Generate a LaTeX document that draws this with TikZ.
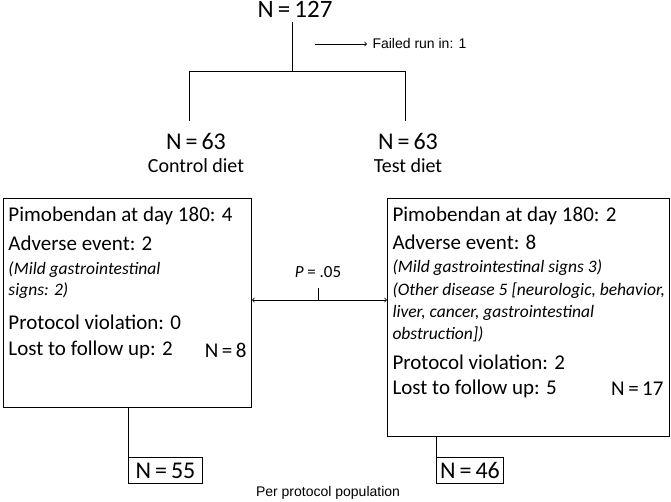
\documentclass[tikz,border=0pt]{standalone}
\usepackage{fontspec}
\setmainfont{Carlito}
\newfontfamily\arial{Liberation Sans}
\begin{document}
\begin{tikzpicture}[x=1pt,y=-1pt,line width=1pt,
 big/.style={font=\fontsize{24}{26}\selectfont,inner sep=0},
 txt/.style={font=\fontsize{21}{23}\selectfont,inner sep=0,anchor=west},
 itx/.style={font=\fontsize{17.5}{19}\selectfont\itshape,inner sep=0,anchor=west},
 sm/.style={font=\arial\fontsize{14}{16}\selectfont,inner sep=0}]
\useasboundingbox (0,0) rectangle (671,502);
\node[big,font=\fontsize{25}{27}\selectfont] (top) at (295,9) {N\,=\,127};
\coordinate (j) at (292,72);
\coordinate (t0) at (292,22);
\draw (t0) -- (j);
\coordinate (a0) at (315,44); \coordinate (a1) at (367,44);
\draw[->,line width=0.8pt] (a0) -- (a1);
\node[sm,anchor=west] (fr) at (372,44) {Failed run in: 1};
\coordinate (l) at (189,72); \coordinate (r) at (405,72);
\coordinate (l1) at (189,121); \coordinate (r1) at (405,121);
\draw (l1) -- (l) -- (r) -- (r1);
\node[big] (c63) at (196,141) {N\,=\,63};
\node[font=\fontsize{20}{22}\selectfont,inner sep=0] (cd) at (196,166) {Control diet};
\node[big] (t63) at (408,141) {N\,=\,63};
\node[font=\fontsize{20}{22}\selectfont,inner sep=0] (td) at (408,166) {Test diet};
\node[draw,minimum width=248,minimum height=209,anchor=north west] (lb) at (3,198) {};
\node[draw,minimum width=282,minimum height=238,anchor=north west] (rb) at (387,198) {};
\node[txt] at (8,216) {Pimobendan at day 180: 4};
\node[txt] at (8,243) {Adverse event: 2};
\node[itx] at (8,270) {(Mild gastrointestinal};
\node[itx] at (8,291) {signs: 2)};
\node[txt] at (8,322) {Protocol violation: 0};
\node[txt] at (8,350) {Lost to follow up: 2};
\node[txt,anchor=east] at (247,350) {N\,=\,8};
\node[txt] at (392,216) {Pimobendan at day 180: 2};
\node[txt] at (392,242) {Adverse event: 8};
\node[itx] at (392,268) {(Mild gastrointestinal signs 3)};
\node[itx] at (392,291) {(Other disease 5 [neurologic, behavior,};
\node[itx] at (392,313) {liver, cancer, gastrointestinal};
\node[itx] at (392,334) {obstruction])};
\node[txt] at (392,362) {Protocol violation: 2};
\node[txt] at (392,389) {Lost to follow up: 5};
\node[txt,anchor=east] at (664,389) {N\,=\,17};
\coordinate (pl) at (lb.east|-0,300); \coordinate (pr) at (rb.west|-0,300);
\draw[<->,line width=0.8pt] (pl) -- (pr);
\coordinate (pm) at (318,300); \coordinate (pm1) at (318,288);
\draw[line width=0.8pt] (pm) -- (pm1);
\node[font=\fontsize{17}{19}\selectfont,inner sep=0] (pv) at (318,272) {\textit{P} = .05};
\node[draw,font=\fontsize{24}{26}\selectfont,minimum width=74,minimum height=26,inner sep=0,anchor=north west] (n55) at (128,457) {N\,=\,55};
\node[draw,font=\fontsize{24}{26}\selectfont,minimum width=67,minimum height=26,inner sep=0,anchor=north west] (n46) at (436,457) {N\,=\,46};
\draw (lb.south-|n55.north west) -- (n55.north west);
\draw (rb.south-|n46.north west) -- (n46.north west);
\node[sm] (pp) at (328,493) {Per protocol population};
\end{tikzpicture}
\end{document}
